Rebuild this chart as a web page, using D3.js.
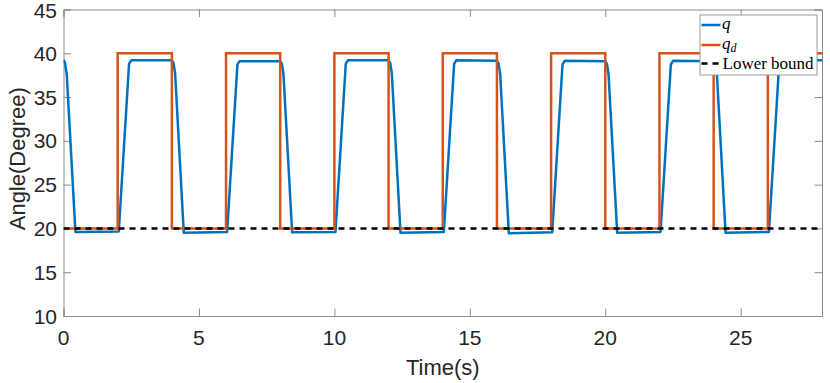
<!DOCTYPE html>
<html>
<head>
<meta charset="utf-8">
<script src="https://cdn.jsdelivr.net/npm/d3@7"></script>
<style>
  html, body { margin: 0; padding: 0; background: #fff; }
  svg { display: block; }
  .tick-label { font-family: "Liberation Sans", Arial, sans-serif; font-size: 21px; fill: #262626; }
  .axis-title { font-family: "Liberation Sans", Arial, sans-serif; font-size: 22px; fill: #262626; }
  .legend-text { font-family: "Liberation Serif", "DejaVu Serif", serif; font-size: 17px; fill: #000; }
</style>
</head>
<body>
<script>
// ---- data ----
const qTime = [0.00, 0.05, 0.12, 0.44, 2.04, 2.42, 2.50, 4.00, 4.06, 4.12, 4.44, 6.04, 6.42, 6.50,
  8.00, 8.06, 8.12, 8.44, 10.04, 10.42, 10.50, 12.00, 12.06, 12.12, 12.44, 14.04, 14.42, 14.50,
  16.00, 16.06, 16.12, 16.44, 18.04, 18.42, 18.50, 20.00, 20.06, 20.12, 20.44, 22.04, 22.42, 22.50,
  24.00, 24.06, 24.12, 24.44, 26.04, 26.42, 26.50, 28.00];
const qValue = [39.25, 39.0, 37.6, 19.6, 19.65, 38.8, 39.2, 39.2, 38.9, 37.7, 19.5, 19.6, 38.7, 39.1,
  39.1, 38.8, 37.6, 19.55, 19.6, 38.8, 39.2, 39.2, 38.9, 37.7, 19.5, 19.6, 38.8, 39.2,
  39.15, 38.85, 37.6, 19.45, 19.55, 38.7, 39.15, 39.1, 38.8, 37.6, 19.5, 19.6, 38.7, 39.15,
  39.1, 38.8, 37.6, 19.5, 19.6, 38.8, 39.2, 39.2];
const qdTime = [0, 2, 4, 6, 8, 10, 12, 14, 16, 18, 20, 22, 24, 26, 28];
const qdValue = [20, 40, 20, 40, 20, 40, 20, 40, 20, 40, 20, 40, 20, 40, 40];
const boundTime = [0, 28];
const boundValue = [20, 20];
const xTicks = [0, 5, 10, 15, 20, 25];
const yTicks = [10, 15, 20, 25, 30, 35, 40, 45];
const xDomain = [0, 28];
const yDomain = [10, 45];

// ---- layout ----
const W = 830, H = 383;
const L = 63.5, R = 822, T = 9.5, B = 316;
const tickLen = 7.5;
const axisColor = "#8c8c8c";
const lw = 2.5;

const svg = d3.select("body").append("svg").attr("width", W).attr("height", H);
const x = d3.scaleLinear().domain(xDomain).range([L, R]);
const y = d3.scaleLinear().domain(yDomain).range([B, T]);

svg.append("defs").append("clipPath").attr("id", "clip")
  .append("rect").attr("x", L).attr("y", T).attr("width", R - L).attr("height", B - T);

// axes box + ticks (inward, on all four sides)
const ax = svg.append("g");
const bottomAxis = d3.axisBottom(x).tickValues(xTicks).tickSize(-tickLen).tickFormat(() => "");
const topAxis = d3.axisTop(x).tickValues(xTicks).tickSize(-tickLen).tickFormat(() => "");
const leftAxis = d3.axisLeft(y).tickValues(yTicks).tickSize(-tickLen).tickFormat(() => "");
const rightAxis = d3.axisRight(y).tickValues(yTicks).tickSize(-tickLen).tickFormat(() => "");
ax.append("g").attr("transform", `translate(0,${B})`).call(bottomAxis);
ax.append("g").attr("transform", `translate(0,${T})`).call(topAxis);
ax.append("g").attr("transform", `translate(${L},0)`).call(leftAxis);
ax.append("g").attr("transform", `translate(${R},0)`).call(rightAxis);
ax.selectAll(".domain").attr("stroke", axisColor);
ax.selectAll(".tick line").attr("stroke", axisColor);

// tick labels
svg.append("g").selectAll("text").data(xTicks).join("text")
  .attr("class", "tick-label").attr("x", d => x(d)).attr("y", 345)
  .attr("text-anchor", "middle").text(d => d);
svg.append("g").selectAll("text").data(yTicks).join("text")
  .attr("class", "tick-label").attr("x", 57).attr("y", d => Math.max(y(d) + 7.5, 18))
  .attr("text-anchor", "end").text(d => d);

// axis titles
svg.append("text").attr("class", "axis-title").attr("x", (L + R) / 2).attr("y", 375)
  .attr("text-anchor", "middle").text("Time(s)");
svg.append("text").attr("class", "axis-title")
  .attr("transform", `translate(25,${(T + B) / 2 - 4}) rotate(-90)`)
  .attr("text-anchor", "middle").text("Angle(Degree)");

// series
const plot = svg.append("g").attr("clip-path", "url(#clip)");
const qData = qTime.map((t, i) => [t, qValue[i]]);
const qdData = qdTime.map((t, i) => [t, qdValue[i]]);
const bData = boundTime.map((t, i) => [t, boundValue[i]]);

plot.append("path").datum(qData)
  .attr("d", d3.line().x(d => x(d[0])).y(d => y(d[1])))
  .attr("fill", "none").attr("stroke", "#0072BD").attr("stroke-width", lw)
  .attr("stroke-linejoin", "round");
plot.append("path").datum(qdData)
  .attr("d", d3.line().curve(d3.curveStepAfter).x(d => x(d[0])).y(d => y(d[1])))
  .attr("fill", "none").attr("stroke", "#D95319").attr("stroke-width", lw);
plot.append("path").datum(bData)
  .attr("d", d3.line().x(d => x(d[0])).y(d => y(d[1])))
  .attr("fill", "none").attr("stroke", "#000").attr("stroke-width", lw)
  .attr("stroke-dasharray", "6,5");

// legend
const lg = svg.append("g");
lg.append("rect").attr("x", 700).attr("y", 15).attr("width", 117).attr("height", 60)
  .attr("fill", "#fff").attr("stroke", "#999").attr("stroke-width", 1);
const legendItems = [
  { color: "#0072BD", dash: null, ly: 25 },
  { color: "#D95319", dash: null, ly: 45 },
  { color: "#000", dash: "6,5", ly: 63.5 }
];
legendItems.forEach(it => {
  const l = lg.append("line").attr("x1", 701.5).attr("x2", 720.5).attr("y1", it.ly).attr("y2", it.ly)
    .attr("stroke", it.color).attr("stroke-width", lw);
  if (it.dash) l.attr("stroke-dasharray", it.dash);
});
lg.append("text").attr("class", "legend-text").attr("x", 722).attr("y", 29)
  .attr("font-style", "italic").text("q");
const t2 = lg.append("text").attr("class", "legend-text").attr("x", 722).attr("y", 49)
  .attr("font-style", "italic");
t2.append("tspan").text("q");
t2.append("tspan").attr("dy", 3).attr("font-size", "12px").text("d");
lg.append("text").attr("class", "legend-text").attr("x", 722.5).attr("y", 69).text("Lower bound");
</script>
</body>
</html>
